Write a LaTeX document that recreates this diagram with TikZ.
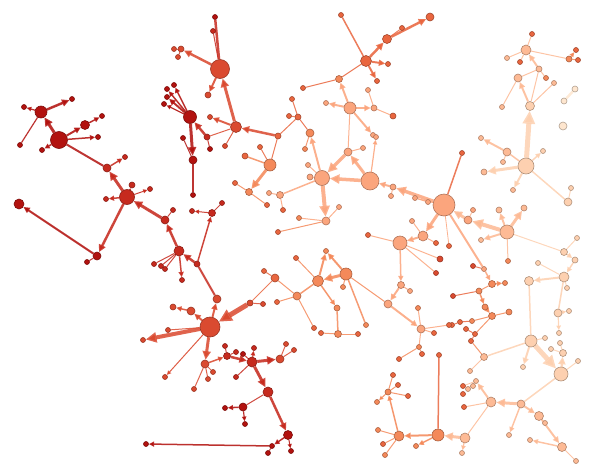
\documentclass[tikz,border=0pt]{standalone}
\usetikzlibrary{arrows.meta}
\pgfdeclarelayer{bg}
\pgfsetlayers{bg,main}
\definecolor{k1}{HTML}{B2120F}
\definecolor{k2}{HTML}{C62A1E}
\definecolor{k3}{HTML}{DA4A30}
\definecolor{k4}{HTML}{E9663F}
\definecolor{k5}{HTML}{F4895A}
\definecolor{k6}{HTML}{FBA57D}
\definecolor{k7}{HTML}{FDBA95}
\definecolor{k8}{HTML}{FDD0B0}
\definecolor{k9}{HTML}{FEE6CF}
\tikzset{
  vx/.style={circle, inner sep=0pt, draw=#1!70!black, fill=#1, line width=0.6pt},
  ed/.style={draw opacity=0.85, line cap=butt},
  ar/.style={ed, -{Triangle[length=2pt 2.2, width=2pt 2]}}
}
\begin{document}
\begin{tikzpicture}[x=1pt, y=-1pt]
  \useasboundingbox (0,0) rectangle (595,469);
  % vertices: name/x/y/diameter/colour
  \foreach \n/\x/\y/\d/\c in {
    a1/41/112/12/k1, a2/59/140/17/k1, a3/85/125/9/k1, a4/24/107/5/k1, a5/72/99/5/k1,
    a6/20/145/5/k1, a7/42/150/5/k1, a8/102/116/5/k1, a9/98/137/5/k1,
    b1/107/168/8/k2, b2/127/197/15/k2, b3/125/157/5/k2, b4/132/185/6/k2, b5/150/189/5/k2,
    b6/106/199/5/k2, b7/97/256/8/k1, b8/87/262/5/k1, b9/19/204/10/k1, b10/165/220/8/k2,
    b11/173/210/5/k2, b12/179/251/10/k2, b13/154/264/5/k2, b14/161/266/5/k2, b15/165/269/5/k2,
    b16/182/280/5/k2, b17/197/264/6/k2, b18/212/213/7/k2, b19/222/203/5/k2, b20/192/211/5/k2,
    b21/193/160/8/k1, b22/193/195/5/k1,
    c1/190/117/13/k1, c2/174/85/5/k1, c3/167/89/5/k1, c4/167/97/5/k1, c5/164/104/5/k1,
    c6/183/138/5/k1, c7/207/137/6/k2, c8/210/149/5/k1,
    d1/220/69/19/k3, d2/215/17/5/k1, d3/213/31/5/k2, d4/174/49/5/k3, d5/181/49/6/k3,
    d6/178/57/5/k3, d7/208/95/6/k3, d8/236/127/11/k3, d9/210/117/5/k3, d10/225/146/5/k3,
    d11/278/136/6/k4,
    e1/366/61/11/k4, e2/341/15/5/k4, e3/387/39/9/k4, e4/402/28/5/k4, e5/430/17/8/k4,
    e6/388/64/5/k4, e7/377/81/5/k4, e8/339/79/7/k5, e9/303/88/5/k4,
    f1/350/108/12/k6, f2/326/103/5/k6, f3/374/108/6/k6, f4/368/90/5/k6, f5/393/116/6/k4,
    f6/373/135/5/k6, f7/376/137/5/k6, f8/348/152/8/k6, f9/363/148/5/k6,
    g1/322/178/15/k6, g2/370/181/18/k6, g3/308/165/5/k6, g4/310/177/6/k6, g5/280/195/7/k6,
    g6/269/193/5/k6, g7/283/210/5/k4, g8/326/221/8/k6, g9/299/218/5/k5, g10/278/232/5/k4,
    g11/339/207/5/k6,
    h1/270/165/12/k5, h2/245/156/6/k4, h3/249/192/7/k5, h4/235/183/5/k4, h5/267/205/5/k4,
    h6/310/133/8/k5, h7/305/149/5/k5, h8/292/99/5/k4, h9/298/117/6/k4, h10/289/116/5/k4,
    h11/260/147/5/k4,
    i1/444/205/22/k6, i2/393/187/6/k6, i3/391/196/5/k6, i4/415/198/5/k6, i5/428/202/5/k6,
    i6/423/236/10/k6, i7/412/221/5/k6, i8/436/243/5/k4, i9/400/243/14/k6, i10/368/235/5/k4,
    i11/440/259/6/k3, i12/436/273/5/k3, i13/401/285/7/k6, i14/410/291/5/k6, i15/388/304/8/k6,
    i16/462/153/5/k4, i17/468/220/8/k6, i18/473/210/5/k6, i19/449/246/5/k4, i20/484/269/5/k6,
    j1/507/232/14/k7, j2/499/210/6/k7, j3/524/208/6/k7, j4/481/240/5/k7, j5/508/261/5/k5,
    j6/564/252/7/k8, j7/577/238/5/k8, j8/575/260/6/k8, j9/564/277/10/k8, j10/538/263/5/k8,
    j11/529/281/9/k8, j12/567/288/5/k8,
    m1/526/166/16/k8, m2/507/152/8/k7, m3/503/162/5/k7, m4/543/151/5/k8, m5/484/172/6/k7,
    m6/513/190/5/k7, m7/568/202/8/k8, m8/571/188/5/k8, m9/530/106/9/k8, m10/518/78/8/k7,
    m11/539/69/6/k7, m12/526/50/10/k7, m13/532/34/5/k4, m14/507/58/5/k7, m15/520/62/5/k4,
    m16/569/59/6/k5, m17/576/50/5/k4, m18/578/60/5/k4, m19/546/78/5/k5, m20/554/83/5/k7,
    m21/502/107/5/k7, m22/575/89/6/k9, m23/564/101/6/k9, m24/563/126/8/k9, m25/481/138/5/k7,
    t1/531/341/12/k8, t2/545/338/5/k8, t3/523/367/5/k8, t4/558/313/8/k8, t5/569/311/5/k8,
    t6/559/333/5/k8, t7/560/343/5/k8, t8/551/349/5/k8, t9/563/353/7/k8, t10/561/374/14/k8,
    t11/578/361/5/k8, t12/521/404/8/k7, t13/491/402/10/k7, t14/539/416/9/k7, t15/545/423/5/k7,
    t16/562/447/9/k7, t17/576/461/5/k7, t18/509/435/5/k7, t19/530/440/5/k7, t20/465/438/10/k7,
    t21/462/453/5/k7, t22/484/357/7/k7, t23/470/371/5/k7, t24/476/381/5/k7, t25/473/386/5/k7,
    t26/468/389/5/k7, t27/463/386/5/k4, t28/463/394/5/k4, t29/464/407/5/k4, t30/438/435/12/k5,
    n1/485/307/6/k5, n2/492/316/7/k5, n3/509/312/6/k5, n4/472/321/5/k5, n5/452/325/5/k4,
    n6/460/322/5/k4, n7/466/329/5/k4, n8/475/334/5/k4, n9/471/341/5/k4, n10/479/291/6/k5,
    n11/492/284/7/k5, n12/505/283/5/k5, n13/453/296/5/k3, n14/473/266/5/k3,
    o1/399/436/10/k5, o2/378/430/5/k5, o3/383/444/5/k4, o4/385/455/5/k5, o5/416/446/5/k5,
    o6/388/392/6/k5, o7/377/402/5/k5, o8/393/375/5/k4, o9/398/385/5/k4, o10/408/396/5/k4,
    o11/439/355/5/k4,
    p1/421/329/8/k6, p2/434/333/5/k4, p3/449/325/5/k4, p4/419/347/5/k5, p5/422/354/5/k4,
    p6/399/359/5/k4, p7/418/308/5/k5,
    q1/338/334/7/k5, q2/321/333/5/k4, q3/358/334/5/k4, q4/337/308/6/k5, q5/314/328/5/k4,
    q6/366/325/5/k5,
    r1/318/281/11/k5, r2/346/274/12/k5, r3/326/251/5/k5, r4/296/258/5/k4, r5/343/287/5/k5,
    r6/275/278/8/k4, r7/264/271/5/k4, r8/297/296/8/k5, r9/277/302/5/k4,
    s1/210/327/20/k3, s2/191/311/8/k3, s3/173/307/6/k3, s4/217/299/8/k3, s5/250/303/6/k3,
    s6/263/304/5/k3, s7/168/330/5/k3, s8/143/340/5/k3, s9/165/377/5/k3, s10/205/364/8/k3,
    s11/213/372/5/k3, s12/208/379/5/k3, s13/194/389/5/k3, s14/227/356/7/k2, s15/225/346/5/k2,
    s16/236/352/5/k2, s17/243/354/5/k1, s18/252/362/10/k2, s19/254/348/5/k2, s20/236/377/5/k2,
    s21/280/359/8/k3, s22/286/344/5/k3, s23/294/350/5/k3, s24/268/392/10/k2, s25/243/407/8/k1,
    s26/225/408/5/k1, s27/245/424/5/k1, s28/288/435/9/k1, s29/272/446/5/k1, s30/268/453/5/k1,
    s31/291/451/5/k1, s32/146/444/5/k1}
    \node[vx=\c, minimum size=\d pt] (\n) at (\x,\y) {};

  \begin{pgfonlayer}{bg}
  % directed links: from/to/width/colour
  \foreach \a/\b/\w/\c in {
    a2/a1/3/k1, a1/a5/2.5/k1, a1/a4/1.2/k1, a2/a3/2/k1, a3/a8/1.5/k1, a2/a9/1.5/k1, a2/a7/1.5/k1,
    b2/b1/3/k2, b1/b3/1.5/k2, b2/b4/1.2/k2, b2/b5/1/k2, b2/b6/1.5/k2, b2/b7/2.5/k2, b7/b9/2/k1,
    b10/b2/3/k2, b12/b10/2.5/k2, b12/b16/1.5/k2, b17/b12/2.5/k2, b17/b18/1.5/k2, b18/b20/1/k2,
    c1/c2/1.5/k1, c1/c3/1.5/k1, c1/c4/2/k1, c1/c5/1.2/k1, c1/b21/3/k1, c7/c1/2.5/k2,
    d1/d5/2.5/k3, d1/d7/2/k3, d8/d1/3/k3, d8/d9/2/k3, d11/d8/2.5/k3,
    e1/e3/2.5/k4, e3/e5/2.5/k4, e1/e6/2/k4, e1/e7/2/k4, f1/e8/2/k6,
    f1/f2/2/k6, f1/f3/2/k6, f1/f6/2/k6, g2/f7/1.2/k6, g2/f8/3/k6, f8/g1/3.5/k6,
    g2/g1/3.5/k6, g1/g8/4/k6, g1/h6/2/k6, h1/h3/3/k5,
    i1/i2/3.5/k6, i2/g2/2/k6, i1/i6/3/k6, i6/i9/2/k6, i9/i13/1.5/k6, i13/i15/2/k6,
    i17/i1/3/k7, j1/i17/4/k7,
    j1/j2/2/k7, j1/j3/3/k7, j1/j4/2/k7, j6/j8/1.5/k8, j8/j9/1.5/k8, j9/j11/2/k8,
    m1/m9/5/k8, m1/m5/3/k8, m1/m6/2/k8, m1/m4/1.5/k8, m9/m10/2/k7, m11/m12/2/k7,
    m16/m17/1.2/k5, m2/m25/2/k7,
    t1/t10/5/k8, t1/t3/2/k8, t10/t9/2.5/k8, t4/t5/1/k8, t4/t6/1.2/k8, t12/t13/3/k7,
    t12/t14/2/k7, t12/t18/1.5/k7, t14/t16/2/k7, t16/t19/1.5/k7, t13/t24/2/k7, t20/t30/3/k7,
    t20/t21/1.2/k7,
    i20/n11/1.5/k6, n11/n12/1.5/k5, n10/n1/1.5/k5, n1/n2/1.5/k5,
    t30/o1/2/k5, t30/o5/1.5/k5, o1/o6/1.5/k5, o6/o7/1/k5,
    i15/p1/2/k6, r1/q4/1.5/k5,
    r2/r1/3/k5, r1/r3/2/k5, r2/r3/2/k5,
    s5/s1/5/k3, s1/s4/2/k3, s1/s2/2/k3, s2/s3/1.5/k3, s1/s8/4/k3, s1/s9/1/k3, s1/s10/3/k3,
    s10/s14/1.5/k3, s14/s18/2.5/k2, s18/s19/1.2/k2, s18/s21/3/k2, s18/s24/3/k2,
    s25/s26/1.5/k1, s25/s27/1.2/k1, s24/s28/2.5/k2, s28/s29/1.5/k1, s28/s31/1/k1,
    s29/s32/1.5/k1}
    \draw[ar, draw=\c, fill=\c, line width=\w pt] (\a) -- (\b);
  % plain links
  \foreach \a/\b/\w/\c in {
    a1/a6/1.2/k1, a2/b1/2/k1,
    b7/b8/1/k1, b10/b11/1/k2, b12/b13/1/k2, b12/b14/1/k2, b12/b15/1/k2, b18/b19/1/k2,
    b17/s4/2/k2, b21/b22/1.5/k1, c6/b21/1/k1, c7/c8/1/k2,
    d1/d2/2.5/k2, d1/d3/1/k2, d5/d4/1/k3, d5/d6/1/k3, d8/d10/1/k3, d8/c7/1/k3,
    e2/e1/1.5/k4, e3/e4/1/k4, e1/e8/1/k4, e8/e9/1/k4,
    f3/f4/1/k6, f3/f5/1/k6, f1/f8/1/k6, f8/f9/1/k6,
    g1/g3/1/k6, g1/g4/1/k6, g1/g5/1.5/k6, g5/g6/1/k6, g5/g7/1/k6, g8/g9/1/k6,
    g8/g10/1/k5, g8/g11/1/k6,
    h1/h2/1.5/k5, h3/h4/1/k5, h3/h5/1/k5, h6/h7/1/k5, h9/h8/1/k4, h9/h10/1/k4,
    h9/h6/1/k4, d11/h9/1/k4, d11/h1/1/k4, h11/h1/1/k4,
    i2/i3/1/k6, i6/i7/1/k6, i6/i8/1/k6, i9/i10/1/k6, i9/i11/1/k6, i9/i12/1/k6,
    i13/i14/1/k6, i1/i16/1.5/k4, i17/i18/1/k7, i1/i19/0.8/k6, i1/i20/2/k6,
    i1/i4/1/k6, i4/i5/1/k6,
    j1/j5/1/k7, j1/j6/1/k8, j6/j7/1/k8, j9/j10/1/k8, j9/j12/1/k8, j11/t1/1.5/k8,
    j9/t4/1.5/k8,
    m1/m2/1.5/k7, m2/m3/1/k7, m1/m7/1.5/k8, m7/m8/1/k8, m9/m11/1/k7, m9/m20/1/k7,
    m10/m11/1/k7, m11/m19/1/k7, m10/m21/1/k7, m12/m13/1/k7, m12/m14/1/k7, m12/m15/1/k7,
    m12/m16/1/k7, m16/m18/1/k5, m22/m23/2.5/k9,
    t1/t2/1/k8, t1/t22/1.5/k8, t22/t23/1/k7, t9/t7/1/k8, t9/t8/1/k8, t10/t11/1/k8,
    t10/t12/1.5/k8, t14/t15/1/k7, t16/t17/1/k7, t24/t25/1/k7, t24/t26/1/k7,
    t13/t20/1/k7, t13/t29/1/k7, t24/t27/0.8/k7, n9/t22/1/k5,
    n13/n10/1/k4, n11/n10/1/k5, n2/n3/1/k5, n2/n4/1/k5, n4/n6/1/k4, n6/n5/1/k4,
    n2/n8/1/k5, n8/n7/1/k4, n8/n9/1/k4, i20/n14/1/k4,
    o1/o2/1/k5, o1/o3/1/k5, o1/o4/1/k5, o6/o8/1/k5, o6/o9/1/k5, o6/o10/1/k5,
    o11/t30/1.5/k4,
    p1/p2/1/k6, p1/p3/1/k6, p1/p4/1/k6, p4/p5/1/k5, p4/p6/1/k5, p7/p1/1/k6,
    q4/q1/1.5/k5, q1/q2/1/k5, q1/q3/1/k5, r2/q6/1.5/k5, r8/q5/1/k5,
    r1/r4/1/k5, r2/r5/1/k5, r1/r8/1.5/k5, r8/r6/1/k5, r6/r7/1/k4, r8/r9/1/k5,
    r6/s5/0.8/k4, r2/i15/1/k5,
    s5/s6/1/k3, s1/s7/1/k3, s10/s11/1/k3, s10/s12/1/k3, s10/s13/1/k3, s14/s15/1/k2,
    s14/s16/1/k2, s18/s17/1/k2, s18/s20/1/k2, s21/s22/1/k3, s21/s23/1/k3,
    s24/s25/1/k2, s29/s30/1/k1}
    \draw[ed, draw=\c, line width=\w pt] (\a) -- (\b);
  \end{pgfonlayer}
\end{tikzpicture}
\end{document}
